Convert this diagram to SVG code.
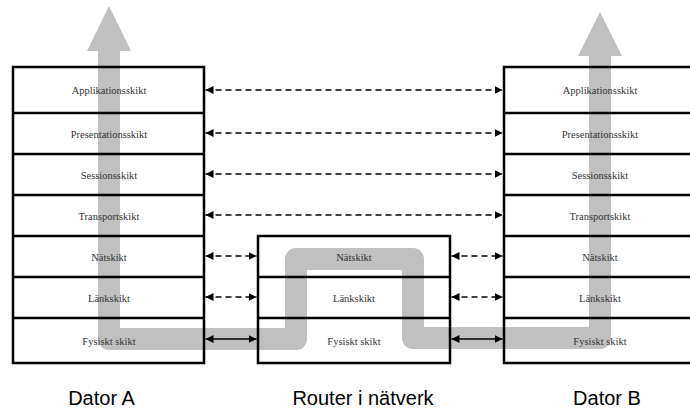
<svg xmlns="http://www.w3.org/2000/svg" width="690" height="411" viewBox="0 0 690 411">
<style>
.box{fill:none;stroke:#000;stroke-width:2.5}
.ln{stroke:#000;stroke-width:2.5}
.t{font-family:"Liberation Serif",serif;font-size:10.5px;fill:#333;text-anchor:middle;dominant-baseline:central}
.lbl{font-family:"Liberation Sans",Arial,sans-serif;font-size:20px;fill:#000;text-anchor:middle}
.d{stroke:#000;stroke-width:1.5;stroke-dasharray:6 4;marker-start:url(#a);marker-end:url(#a)}
.s{stroke:#000;stroke-width:1.5;marker-start:url(#a);marker-end:url(#a)}
</style>
<defs>
<marker id="a" viewBox="0 0 10 10" refX="10" refY="5" markerWidth="8" markerHeight="8" markerUnits="userSpaceOnUse" orient="auto-start-reverse">
<path d="M0,0 L10,5 L0,10 z" fill="#000"/>
</marker>
</defs>
<rect width="690" height="411" fill="#fff"/>
<g id="flow">
<path d="M109,50 L109,339 L296,339 L296,259 L413,259 L413,338 L600,338 L600,55" fill="none" stroke="#c0c0c0" stroke-width="22" stroke-linejoin="round"/>
<polygon points="87,51 109,6 131,51" fill="#c0c0c0"/>
<polygon points="578,56 600,12 622,56" fill="#c0c0c0"/>
</g>
<g id="datorA">
<rect class="box" x="13" y="67" width="191" height="296"/>
<line class="ln" x1="13" y1="113" x2="204" y2="113"/>
<line class="ln" x1="13" y1="154" x2="204" y2="154"/>
<line class="ln" x1="13" y1="195" x2="204" y2="195"/>
<line class="ln" x1="13" y1="236" x2="204" y2="236"/>
<line class="ln" x1="13" y1="277" x2="204" y2="277"/>
<line class="ln" x1="13" y1="318" x2="204" y2="318"/>
<text class="t" x="109" y="90">Applikationsskikt</text>
<text class="t" x="109" y="134">Presentationsskikt</text>
<text class="t" x="109" y="175">Sessionsskikt</text>
<text class="t" x="109" y="216">Transportskikt</text>
<text class="t" x="109" y="257">Nätskikt</text>
<text class="t" x="109" y="298">Länkskikt</text>
<text class="t" x="109" y="341">Fysiskt skikt</text>
<text class="lbl" x="101.5" y="405">Dator A</text>
</g>
<g id="router">
<rect class="box" x="258" y="236" width="192" height="127"/>
<line class="ln" x1="258" y1="277" x2="450" y2="277"/>
<line class="ln" x1="258" y1="318" x2="450" y2="318"/>
<text class="t" x="354" y="257">Nätskikt</text>
<text class="t" x="354" y="298">Länkskikt</text>
<text class="t" x="354" y="341">Fysiskt skikt</text>
<text class="lbl" x="363" y="405">Router i nätverk</text>
</g>
<g id="datorB">
<rect class="box" x="504" y="67" width="192" height="296"/>
<line class="ln" x1="504" y1="113" x2="696" y2="113"/>
<line class="ln" x1="504" y1="154" x2="696" y2="154"/>
<line class="ln" x1="504" y1="195" x2="696" y2="195"/>
<line class="ln" x1="504" y1="236" x2="696" y2="236"/>
<line class="ln" x1="504" y1="277" x2="696" y2="277"/>
<line class="ln" x1="504" y1="318" x2="696" y2="318"/>
<text class="t" x="600" y="90">Applikationsskikt</text>
<text class="t" x="600" y="134">Presentationsskikt</text>
<text class="t" x="600" y="175">Sessionsskikt</text>
<text class="t" x="600" y="216">Transportskikt</text>
<text class="t" x="600" y="257">Nätskikt</text>
<text class="t" x="600" y="298">Länkskikt</text>
<text class="t" x="600" y="341">Fysiskt skikt</text>
<text class="lbl" x="607" y="405">Dator B</text>
</g>
<g id="connectors">
<line class="d" x1="205.5" y1="90" x2="502.5" y2="90"/>
<line class="d" x1="205.5" y1="133" x2="502.5" y2="133"/>
<line class="d" x1="205.5" y1="174" x2="502.5" y2="174"/>
<line class="d" x1="205.5" y1="215" x2="502.5" y2="215"/>
<line class="d" x1="205.5" y1="256" x2="256.5" y2="256"/>
<line class="d" x1="451.5" y1="256" x2="502.5" y2="256"/>
<line class="d" x1="205.5" y1="297" x2="256.5" y2="297"/>
<line class="d" x1="451.5" y1="297" x2="502.5" y2="297"/>
<line class="s" x1="205.5" y1="339" x2="256.5" y2="339"/>
<line class="s" x1="451.5" y1="339" x2="502.5" y2="339"/>
</g>
</svg>
